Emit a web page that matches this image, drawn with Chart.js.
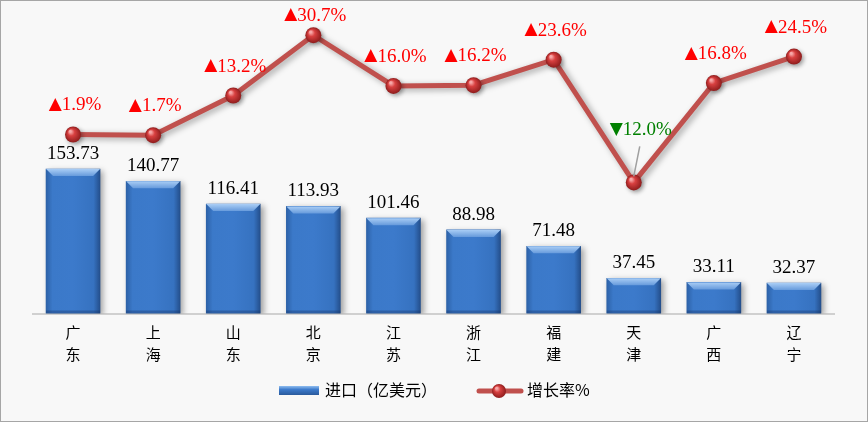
<!DOCTYPE html>
<html><head><meta charset="utf-8">
<script src="https://cdn.jsdelivr.net/npm/chart.js@4.4.0/dist/chart.umd.min.js"></script>
<style>
body{margin:0;background:#fff}
#box{position:relative;width:866px;height:420px;border:1px solid #a6a6a6;background:#f8f8f8}
canvas{display:block}
</style></head><body>
<div id="box"><canvas id="c" width="866" height="420"></canvas></div>
<script>
const provinces = [['广','东'],['上','海'],['山','东'],['北','京'],['江','苏'],['浙','江'],['福','建'],['天','津'],['广','西'],['辽','宁']];
const imports = [153.73, 140.77, 116.41, 113.93, 101.46, 88.98, 71.48, 37.45, 33.11, 32.37]; // 进口 亿美元
const growth  = [1.9, 1.7, 13.2, 30.7, 16.0, 16.2, 23.6, -12.0, 16.8, 24.5]; // 增长率 %
const seriesNames = ['进口（亿美元）', '增长率%'];

const serif = '"Liberation Serif", "Times New Roman", serif';
const cjk = '"Noto Sans CJK SC", sans-serif';

function barGrad(c){ // sfumatura orizzontale per ogni barra
  const ch = c.chart, xs = ch.scales.x;
  if (!xs || !ch.chartArea) return '#3a76c4';
  const x = xs.getPixelForValue(c.dataIndex);
  const g = ch.ctx.createLinearGradient(x - 27, 0, x + 27, 0);
  g.addColorStop(0, '#2d62a8');
  g.addColorStop(0.12, '#3b79c9');
  g.addColorStop(0.5, '#3c7acb');
  g.addColorStop(0.88, '#3672c0');
  g.addColorStop(1, '#244f8c');
  return g;
}

function ball(ctx, x, y, r){ // pallina rossa con riflesso
  const g = ctx.createRadialGradient(x - r*0.35, y - r*0.4, 1, x, y, r);
  g.addColorStop(0, '#f7a8a8');
  g.addColorStop(0.35, '#d84040');
  g.addColorStop(1, '#8e1c1c');
  ctx.fillStyle = g;
  ctx.beginPath(); ctx.arc(x, y, r, 0, Math.PI*2); ctx.fill();
}

function bevel(ctx, left, right, top){ // bordo chiaro in cima alla barra
  const g = ctx.createLinearGradient(0, top, 0, top + 8);
  g.addColorStop(0, '#a9cdf5');
  g.addColorStop(1, '#5d93d8');
  ctx.fillStyle = g;
  ctx.beginPath();
  ctx.moveTo(left, top); ctx.lineTo(right, top);
  ctx.lineTo(right - 7, top + 7); ctx.lineTo(left + 7, top + 7);
  ctx.closePath(); ctx.fill();
}

function arrowLabel(ctx, v, cx, cy){ // triangolo + numero, centrati su cx
  const tri = v >= 0 ? '▲' : '▼';
  const num = Math.abs(v).toFixed(1) + '%';
  ctx.font = '17px "DejaVu Sans", sans-serif';
  const wt = ctx.measureText(tri).width;
  ctx.font = '19px ' + serif;
  const wn = ctx.measureText(num).width;
  const x0 = cx - (wt + wn)/2;
  ctx.fillStyle = v >= 0 ? '#ff0000' : '#008000';
  ctx.textAlign = 'left';
  ctx.textBaseline = 'middle';
  ctx.font = '17px "DejaVu Sans", sans-serif';
  ctx.fillText(tri, x0, cy);
  ctx.font = '19px ' + serif;
  ctx.fillText(num, x0 + wt, cy + 1);
}

const deco = {
  id: 'deco',
  beforeDatasetDraw(chart, args){
    const ctx = chart.ctx;
    ctx.save();
    ctx.shadowColor = 'rgba(0,0,0,0.35)';
    ctx.shadowBlur = 6;
    ctx.shadowOffsetX = 3;
    ctx.shadowOffsetY = 2;
  },
  afterDatasetDraw(chart, args){
    const ctx = chart.ctx;
    ctx.restore();
    if (args.index === 0){
      chart.getDatasetMeta(0).data.forEach(b => {
        const l = b.x - b.width/2, r = b.x + b.width/2;
        bevel(ctx, l, r, b.y);
        ctx.fillStyle = 'rgba(20,50,100,0.35)';
        ctx.fillRect(l, b.base - 3, b.width, 3);
      });
    } else {
      ctx.save();
      ctx.shadowColor = 'rgba(0,0,0,0.35)';
      ctx.shadowBlur = 4; ctx.shadowOffsetX = 2; ctx.shadowOffsetY = 2;
      chart.getDatasetMeta(1).data.forEach(p => ball(ctx, p.x, p.y, 8));
      ctx.restore();
    }
  },
  afterDatasetsDraw(chart){
    const ctx = chart.ctx;
    ctx.save();
    ctx.font = '19px ' + serif;
    ctx.textAlign = 'center';
    ctx.textBaseline = 'middle';
    ctx.fillStyle = '#000';
    chart.getDatasetMeta(0).data.forEach((b, i) => {
      ctx.fillText(imports[i].toFixed(2), b.x, b.y - 15);
    });
    chart.getDatasetMeta(1).data.forEach((p, i) => {
      const v = growth[i];
      if (v >= 0){
        arrowLabel(ctx, v, p.x + 2, Math.max(p.y - 30, 14)); // non uscire dal bordo in alto
      } else {
        arrowLabel(ctx, v, p.x + 7, p.y - 53);
        ctx.strokeStyle = '#a0a0a0'; ctx.lineWidth = 1.5;
        ctx.beginPath(); ctx.moveTo(p.x + 6, p.y - 36); ctx.lineTo(p.x, p.y - 6); ctx.stroke();
      }
    });
    ctx.restore();
  },
  afterDraw(chart){ // legenda in basso
    const ctx = chart.ctx;
    ctx.save();
    const y = 389;
    const g = ctx.createLinearGradient(0, y - 4, 0, y + 5);
    g.addColorStop(0, '#8fbdf0'); g.addColorStop(0.4, '#3c7acb'); g.addColorStop(1, '#2a5a9c');
    ctx.fillStyle = g;
    ctx.fillRect(278, y - 4, 40, 9);
    ctx.strokeStyle = '#c0504d'; ctx.lineWidth = 5; ctx.lineCap = 'round';
    ctx.beginPath(); ctx.moveTo(478, y + 1); ctx.lineTo(520, y + 1); ctx.stroke();
    ball(ctx, 498, y + 1, 7);
    ctx.fillStyle = '#000';
    ctx.font = '16px ' + cjk;
    ctx.textBaseline = 'middle';
    ctx.textAlign = 'left';
    ctx.fillText(seriesNames[0], 324, y);
    ctx.fillText(seriesNames[1], 526, y);
    ctx.restore();
  }
};

new Chart(document.getElementById('c'), {
  data: {
    labels: provinces,
    datasets: [
      { type: 'bar', label: seriesNames[0], data: imports, yAxisID: 'y', order: 1,
        backgroundColor: barGrad, borderWidth: 0, barThickness: 54 },
      { type: 'line', label: seriesNames[1], data: growth, yAxisID: 'y2', order: 0,
        borderColor: '#c0504d', borderWidth: 5, pointRadius: 0, tension: 0 }
    ]
  },
  options: {
    responsive: false,
    animation: false,
    layout: { padding: { left: 32, right: 33, top: 9, bottom: 56 } },
    plugins: { legend: { display: false }, tooltip: { enabled: false } },
    scales: {
      x: {
        grid: { display: false },
        border: { display: true, color: '#d0d0d0', width: 2 },
        ticks: { color: '#000', font: { family: cjk, size: 15, lineHeight: 1.45 }, padding: 0, maxRotation: 0 }
      },
      y: { display: false, min: 0, max: 323 },
      y2: { display: false, min: -50, max: 38 }
    }
  },
  plugins: [deco]
});
</script>
</body></html>
